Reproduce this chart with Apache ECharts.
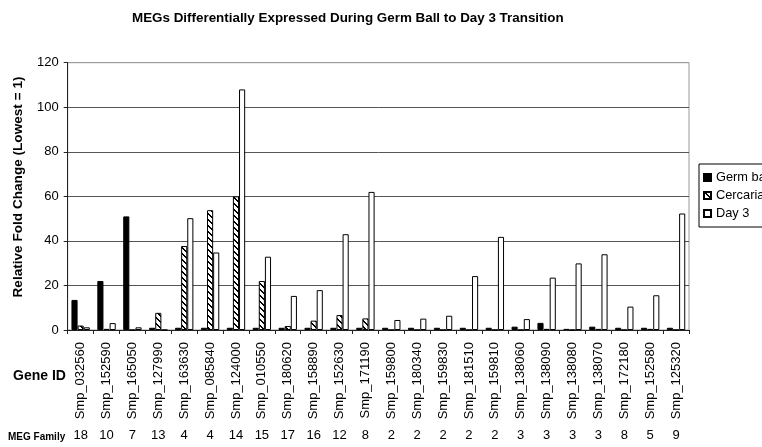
<!DOCTYPE html>
<html>
<head>
<meta charset="utf-8">
<script src="https://cdn.jsdelivr.net/npm/echarts@6/dist/echarts.min.js"></script>
<style>
  html, body { margin: 0; padding: 0; background: #fff; }
  #chart { width: 762px; height: 447px; }
</style>
</head>
<body>
<div id="chart"></div>
<script>
var geneIds = ['Smp_032560', 'Smp_152590', 'Smp_165050', 'Smp_127990', 'Smp_163630', 'Smp_085840',
  'Smp_124000', 'Smp_010550', 'Smp_180620', 'Smp_158890', 'Smp_152630', 'Smp_171190',
  'Smp_159800', 'Smp_180340', 'Smp_159830', 'Smp_181510', 'Smp_159810', 'Smp_138060',
  'Smp_138090', 'Smp_138080', 'Smp_138070', 'Smp_172180', 'Smp_152580', 'Smp_125320'];
var megFamily = ['18', '10', '7', '13', '4', '4', '14', '15', '17', '16', '12', '8',
  '2', '2', '2', '2', '2', '3', '3', '3', '3', '8', '5', '9'];
var germBall = [13.5, 22, 51, 1, 1, 1, 1, 1, 1, 1, 1, 1, 1, 1, 1, 1, 1, 1.5, 3.2, 0.5, 1.5, 1, 1, 1];
var cercaria = [2, 0.5, 0, 7.7, 37.7, 53.8, 60, 22, 1.8, 4.2, 6.7, 5.2, 0, 0, 0, 0, 0, 0, 0.5, 0, 0.5, 0, 0.5, 0];
var day3 = [1.2, 3.1, 1.2, 0, 50.2, 34.8, 108, 32.9, 15.3, 17.9, 43, 62, 4.5, 5.1, 6.4, 24.2, 41.8, 4.9, 23.5, 29.9, 34, 10.5, 15.6, 52.3];
var yTicks = { min: 0, max: 120, step: 20 };

var font = 'Liberation Sans, Arial, sans-serif';

// diagonal hatch for the Cercaria bars
function hatch() {
  var c = document.createElement('canvas');
  c.width = 6; c.height = 6;
  var ctx = c.getContext('2d');
  var img = ctx.createImageData(6, 6);
  for (var y = 0; y < 6; y++) {
    for (var x = 0; x < 6; x++) {
      var on = (((x - y) % 6) + 6) % 6 < 2;
      var i = (y * 6 + x) * 4;
      var v = on ? 0 : 255;
      img.data[i] = v; img.data[i + 1] = v; img.data[i + 2] = v; img.data[i + 3] = 255;
    }
  }
  ctx.putImageData(img, 0, 0);
  return c;
}

var myChart = echarts.init(document.getElementById('chart'));
var option = {
  animation: false,
  backgroundColor: '#fff',
  textStyle: { fontFamily: font, color: '#000' },
  title: {
    text: 'MEGs Differentially Expressed During Germ Ball to Day 3 Transition',
    left: 132,
    top: 12,
    padding: 0,
    textStyle: { fontFamily: font, fontSize: 13.4, fontWeight: 'bold', color: '#000' }
  },
  legend: {
    orient: 'vertical',
    left: 699,
    top: 164,
    padding: [7, 4, 7, 4],
    itemGap: 5,
    itemWidth: 7,
    itemHeight: 7,
    borderColor: '#000',
    borderWidth: 1,
    icon: 'rect',
    textStyle: { fontFamily: font, fontSize: 12.8, color: '#000' },
    data: ['Germ ball', 'Cercaria', 'Day 3']
  },
  grid: {
    left: 67.7,
    right: 73,
    top: 62.7,
    bottom: 117,
    show: true,
    borderColor: '#999',
    borderWidth: 1
  },
  xAxis: [{
    type: 'category',
    data: geneIds,
    position: 'bottom',
    axisLine: { lineStyle: { color: '#222', width: 1 } },
    axisTick: { show: true, length: 4, lineStyle: { color: '#222' } },
    axisLabel: { rotate: 90, margin: 12, fontSize: 13, color: '#000', interval: 0 }
  }, {
    type: 'category',
    data: megFamily,
    position: 'bottom',
    axisLine: { show: false },
    axisTick: { show: false },
    axisLabel: { margin: 99, fontSize: 13, color: '#000', interval: 0 }
  }],
  yAxis: {
    type: 'value',
    min: yTicks.min,
    max: yTicks.max,
    interval: yTicks.step,
    axisLine: { show: true, lineStyle: { color: '#222' } },
    axisTick: { show: true, length: 4, lineStyle: { color: '#222' } },
    axisLabel: { fontSize: 13, margin: 9, color: '#000' },
    splitLine: { lineStyle: { color: ['#555', '#555', '#555', '#555', '#555', '#555', '#999'], width: 1 } }
  },
  graphic: [{
    type: 'text',
    x: 18, y: 187,
    rotation: Math.PI / 2,
    style: {
      text: 'Relative Fold Change (Lowest = 1)',
      font: 'bold 13.6px ' + font,
      fill: '#000',
      align: 'center',
      verticalAlign: 'middle'
    }
  }, {
    type: 'text',
    x: 13, y: 376,
    style: { text: 'Gene ID', font: 'bold 14px ' + font, fill: '#000', verticalAlign: 'middle' }
  }, {
    type: 'text',
    x: 8, y: 437,
    style: { text: 'MEG Family', font: 'bold 10px ' + font, fill: '#000', verticalAlign: 'middle' }
  }],
  series: [{
    name: 'Germ ball',
    type: 'bar',
    data: germBall,
    barGap: '0%',
    barCategoryGap: '29%',
    itemStyle: { color: '#000', borderColor: '#000', borderWidth: 1 }
  }, {
    name: 'Cercaria',
    type: 'bar',
    data: cercaria,
    itemStyle: { color: { image: hatch(), repeat: 'repeat' }, borderColor: '#000', borderWidth: 1 }
  }, {
    name: 'Day 3',
    type: 'bar',
    data: day3,
    itemStyle: { color: '#fff', borderColor: '#000', borderWidth: 1 }
  }]
};
myChart.setOption(option);
</script>
</body>
</html>
